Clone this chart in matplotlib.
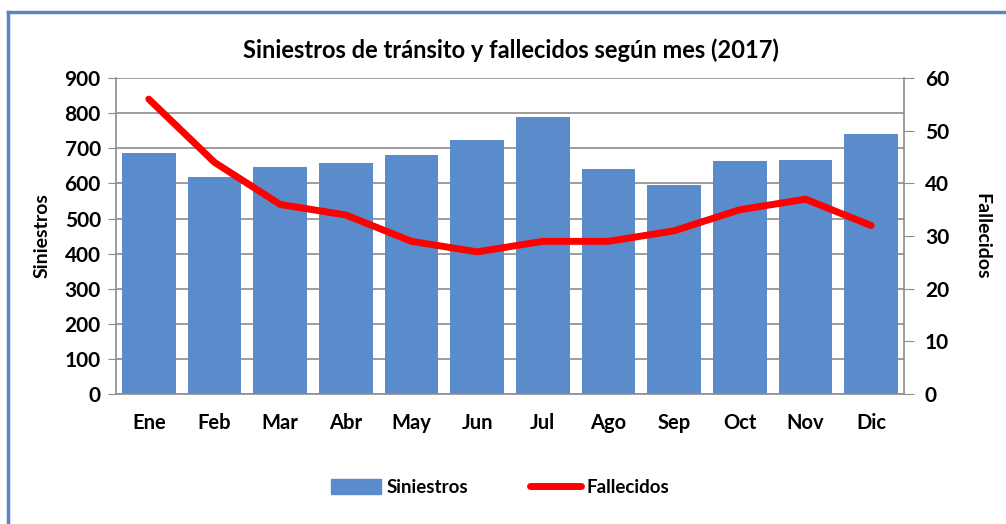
import matplotlib
matplotlib.use("Agg")
from matplotlib import pyplot as plt
from matplotlib.lines import Line2D

meses = ["Ene", "Feb", "Mar", "Abr", "May", "Jun", "Jul", "Ago", "Sep", "Oct", "Nov", "Dic"]
siniestros = [686, 619, 646, 657, 680, 725, 788, 641, 595, 664, 668, 742]
fallecidos = [56, 44, 36, 34, 29, 27, 29, 29, 31, 35, 37, 32]

plt.rcParams['font.family'] = ['Lato', 'DejaVu Sans']
plt.rcParams['font.weight'] = 'bold'

fig = plt.figure(figsize=(10.06, 5.24), dpi=100)
ax = fig.add_axes([0.1153, 0.248, 0.7833, 0.603])

x = list(range(len(meses)))
ax.bar(x, siniestros, width=0.82, color='#5A8BCB', zorder=2)
ax.set_xlim(-0.5, 11.5)
ax.set_ylim(0, 900)
ax.set_yticks(range(0, 901, 100))
ax.set_xticks(x)
ax.set_xticklabels(meses)
ax.grid(axis='y', color='#8c8c8c', linewidth=1.2, zorder=0)
ax.set_axisbelow(True)
for s in ['top', 'right']:
	ax.spines[s].set_visible(False)
ax.spines['left'].set_color('#8c8c8c')
ax.spines['bottom'].set_color('#8c8c8c')
ax.spines['left'].set_linewidth(1.2)
ax.spines['bottom'].set_linewidth(1.2)
ax.tick_params(axis='y', length=6, color='#8c8c8c', labelsize=15, pad=5)
ax.tick_params(axis='x', length=0, labelsize=14.5, pad=14)
ax.set_ylabel('Siniestros', fontsize=14, fontweight='bold', labelpad=10)

ax2 = ax.twinx()
ax2.plot(x, fallecidos, color='#FF0000', linewidth=5, solid_capstyle='round', zorder=3)
ax2.set_ylim(0, 60)
ax2.set_yticks(range(0, 61, 10))
for s in ['top', 'left', 'bottom']:
	ax2.spines[s].set_visible(False)
ax2.spines['right'].set_color('#8c8c8c')
ax2.spines['right'].set_linewidth(1.2)
ax2.tick_params(axis='y', length=7, color='#8c8c8c', labelsize=15, pad=8)
ax2.set_ylabel('Fallecidos', fontsize=14, fontweight='bold', rotation=270, labelpad=30)

fig.text(0.508, 0.905, 'Siniestros de tránsito y fallecidos según mes (2017)',
	ha='center', va='center', fontsize=17, fontweight='bold')

handles = [plt.Rectangle((0, 0), 1, 1, color='#5A8BCB'),
	Line2D([0], [0], color='#FF0000', linewidth=5, solid_capstyle='round')]
fig.legend(handles, ['Siniestros', 'Fallecidos'], loc='center', bbox_to_anchor=(0.497, 0.07),
	ncol=2, frameon=False, fontsize=13.5, handlelength=2.7, handleheight=0.9,
	handletextpad=0.3, columnspacing=3.3)

# marco del gráfico
fig.add_artist(Line2D([0.008, 0.008], [0.0, 0.977], color='#5B84C4', linewidth=2.5))
fig.add_artist(Line2D([0.008, 1.0], [0.977, 0.977], color='#5B84C4', linewidth=2.5))

fig.savefig('out.png', dpi=100)
